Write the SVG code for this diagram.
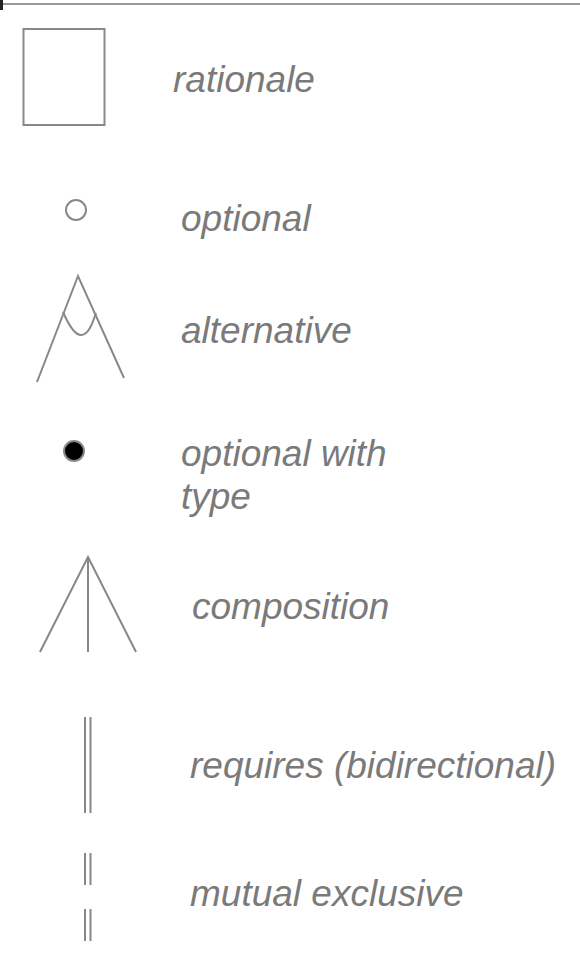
<svg xmlns="http://www.w3.org/2000/svg" width="580" height="962" viewBox="0 0 580 962">
  <style>
    .sym { fill: none; stroke: #888; stroke-width: 2; }
    .lbl { font-family: "Liberation Sans", Arial, sans-serif; font-style: italic; font-size: 37px; fill: #7a7a7a; }
  </style>
  <rect width="580" height="962" fill="#fff"/>
  <!-- top rule -->
  <g id="frame">
    <line x1="0" y1="4" x2="580" y2="4" stroke="#777" stroke-width="1.5"/>
    <rect x="0" y="0" width="3" height="10" fill="#222"/>
  </g>
  <g id="legend-rationale">
    <rect class="sym" x="23.5" y="29" width="81" height="96"/>
    <text class="lbl" x="173" y="92">rationale</text>
  </g>
  <g id="legend-optional">
    <circle class="sym" cx="76" cy="210" r="10"/>
    <text class="lbl" x="181" y="231">optional</text>
  </g>
  <g id="legend-alternative">
    <path class="sym" d="M37,382 L78,276 L124,378"/>
    <path class="sym" d="M63,312 C70,328 76,335 81,335 C88,335 92,325 96,313"/>
    <text class="lbl" x="181" y="343">alternative</text>
  </g>
  <g id="legend-optional-type">
    <circle cx="74" cy="451" r="10" fill="#000" stroke="#888" stroke-width="2"/>
    <text class="lbl" x="181" y="466">optional with</text>
    <text class="lbl" x="181" y="509">type</text>
  </g>
  <g id="legend-composition">
    <path class="sym" d="M40,652 L88,557 L136,652 M88,557 L88,652"/>
    <text class="lbl" x="192" y="619">composition</text>
  </g>
  <g id="legend-requires">
    <path class="sym" d="M85,717 V813 M90.5,717 V813"/>
    <text class="lbl" x="190" y="778">requires (bidirectional)</text>
  </g>
  <g id="legend-exclusive">
    <path class="sym" d="M85,853 V885 M90.5,853 V885 M85,909 V941 M90.5,909 V941"/>
    <text class="lbl" x="190" y="906">mutual exclusive</text>
  </g>
</svg>
